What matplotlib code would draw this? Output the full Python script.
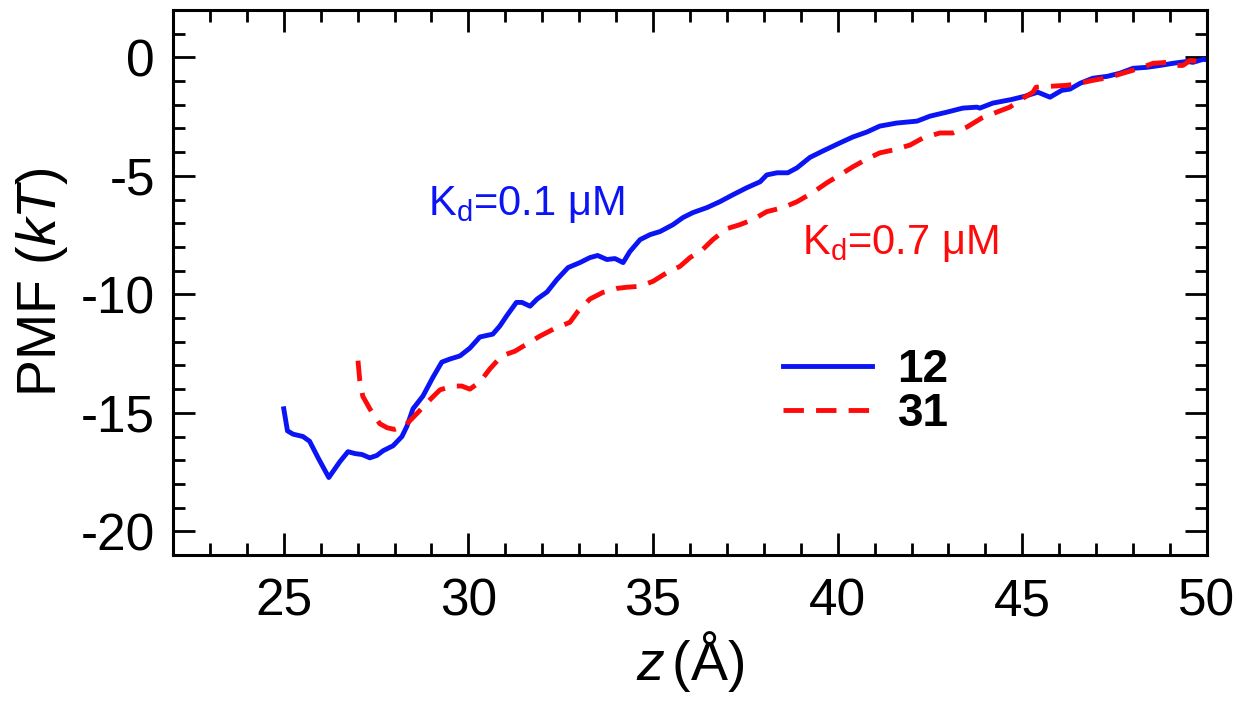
import matplotlib
matplotlib.use("Agg")
import matplotlib.pyplot as plt
from matplotlib.ticker import MultipleLocator

plt.rcParams['font.family'] = ['Liberation Sans', 'DejaVu Sans']
plt.rcParams['mathtext.fontset'] = 'custom'
plt.rcParams['mathtext.rm'] = 'Liberation Sans'
plt.rcParams['mathtext.it'] = 'Liberation Sans:italic'
plt.rcParams['mathtext.bf'] = 'Liberation Sans:bold'
plt.rcParams['axes.unicode_minus'] = False

# ---- data ----
z_12 = [25.0, 25.1, 25.25, 25.52, 25.7, 25.93, 26.22, 26.52, 26.74, 26.93, 27.12, 27.33,
        27.52, 27.69, 27.96, 28.2, 28.34, 28.5, 28.77, 29.04, 29.28, 29.5, 29.77, 30.04,
        30.31, 30.66, 30.85, 31.04, 31.3, 31.45, 31.67, 31.86, 32.13, 32.4, 32.7, 33.02,
        33.29, 33.5, 33.75, 33.97, 34.19, 34.37, 34.65, 34.92, 35.19, 35.54, 35.81, 36.08,
        36.46, 36.81, 37.16, 37.54, 37.9, 38.08, 38.36, 38.65, 38.9, 39.25, 39.6, 40.06,
        40.41, 40.79, 41.14, 41.6, 42.15, 42.5, 42.96, 43.39, 43.77, 43.85, 44.2, 44.7,
        45.07, 45.42, 45.75, 46.07, 46.29, 46.57, 46.91, 47.3, 47.64, 48.0, 48.37, 48.73,
        49.08, 49.46, 49.62, 49.9, 50.0]
pmf_12 = [-14.83, -15.76, -15.9, -16.0, -16.2, -16.9, -17.73, -17.06, -16.64, -16.72, -16.76, -16.9,
          -16.8, -16.6, -16.39, -16.0, -15.55, -14.83, -14.29, -13.5, -12.86, -12.73, -12.6, -12.27,
          -11.8, -11.68, -11.34, -10.9, -10.34, -10.34, -10.5, -10.2, -9.9, -9.37, -8.87, -8.66,
          -8.45, -8.36, -8.53, -8.49, -8.66, -8.2, -7.69, -7.48, -7.35, -7.06, -6.76, -6.55,
          -6.34, -6.09, -5.8, -5.5, -5.25, -4.96, -4.87, -4.87, -4.66, -4.22, -3.95, -3.61,
          -3.36, -3.15, -2.9, -2.77, -2.69, -2.48, -2.31, -2.14, -2.1, -2.14, -1.93, -1.78,
          -1.64, -1.47, -1.68, -1.39, -1.34, -1.09, -0.88, -0.8, -0.67, -0.46, -0.42, -0.34,
          -0.25, -0.17, -0.21, -0.08, -0.1]

z_31 = [27.01, 27.06, 27.14, 27.33, 27.6, 27.8, 28.0, 28.28, 28.6, 28.9, 29.23, 29.58,
        29.82, 30.04, 30.31, 30.58, 30.9, 31.26, 31.58, 31.94, 32.3, 32.75, 32.97, 33.29,
        33.64, 34.02, 34.29, 34.65, 35.0, 35.38, 35.73, 36.0, 36.35, 36.62, 37.0, 37.35,
        37.7, 38.08, 38.52, 38.9, 39.33, 39.71, 40.06, 40.41, 40.79, 41.14, 41.5, 41.96,
        42.31, 42.77, 43.12, 43.5, 43.9, 44.31, 44.66, 45.02, 45.29, 45.37, 45.75, 46.2,
        46.56, 46.91, 47.37, 47.72, 48.18, 48.54, 48.92, 49.08, 49.35, 49.54, 49.81, 49.95]
pmf_31 = [-12.8, -13.65, -14.3, -14.83, -15.46, -15.63, -15.7, -15.55, -15.04, -14.54, -14.03, -13.87,
          -13.87, -14.0, -13.7, -13.15, -12.6, -12.4, -12.1, -11.76, -11.47, -11.18, -10.71, -10.2,
          -9.92, -9.75, -9.7, -9.66, -9.45, -9.08, -8.82, -8.45, -8.1, -7.69, -7.23, -7.06,
          -6.85, -6.51, -6.34, -6.09, -5.7, -5.29, -4.96, -4.62, -4.29, -4.03, -3.91, -3.7,
          -3.4, -3.19, -3.19, -2.94, -2.56, -2.31, -2.1, -1.72, -1.47, -1.26, -1.22, -1.18,
          -1.09, -0.97, -0.84, -0.67, -0.46, -0.25, -0.21, -0.34, -0.34, -0.13, -0.17, -0.13]

series_labels = ['12', '31']
annot_texts = [r'K$_\mathrm{d}$=0.1 μM', r'K$_\mathrm{d}$=0.7 μM']

# ---- figure ----
fig = plt.figure(figsize=(12.48, 7.19), dpi=100)
ax = fig.add_axes([0.1386, 0.2281, 0.8285, 0.758])

ax.plot(z_12, pmf_12, color='#0a14f5', lw=3.5, solid_joinstyle='round', label=series_labels[0])
ax.plot(z_31, pmf_31, color='#ff0a0a', lw=3.5, linestyle=(0, (4.2, 2.5)), label=series_labels[1])

ax.set_xlim(22, 50)
ax.set_ylim(-21, 2)
ax.xaxis.set_major_locator(MultipleLocator(5))
ax.xaxis.set_minor_locator(MultipleLocator(1))
ax.yaxis.set_major_locator(MultipleLocator(5))
ax.yaxis.set_minor_locator(MultipleLocator(1))

for s in ax.spines.values():
    s.set_linewidth(2.2)
ax.tick_params(which='both', direction='in', top=True, right=True, width=2.0)
ax.tick_params(which='major', length=16, labelsize=37)
ax.tick_params(which='minor', length=8.6)
ax.tick_params(axis='x', which='major', pad=16)
ax.tick_params(axis='y', which='major', pad=13)

ax.set_xlabel(r'$z\,$(Å)', fontsize=40, labelpad=2)
ax.set_ylabel(r'PMF ($kT$)', fontsize=40, labelpad=8)

ax.text(28.9, -6.64, annot_texts[0], color='#0a14f5', fontsize=30, ha='left', va='baseline')
ax.text(39.03, -8.28, annot_texts[1], color='#ff0a0a', fontsize=30, ha='left', va='baseline')

leg = ax.legend(loc='upper left', bbox_to_anchor=(0.59, 0.38), frameon=False,
                prop={'size': 33, 'weight': 'bold'}, handlelength=1.95, handletextpad=0.55,
                labelspacing=0.0, borderpad=0, borderaxespad=0)

fig.savefig('out.png', dpi=100)
